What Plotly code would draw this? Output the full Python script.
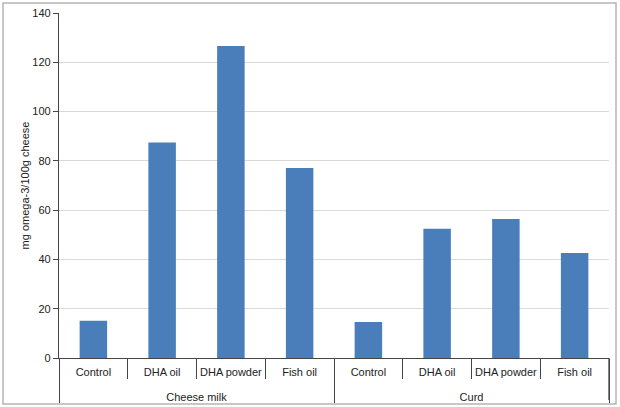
import plotly.graph_objects as go

groups = ["Cheese milk"] * 4 + ["Curd"] * 4
treatments = ["Control", "DHA oil", "DHA powder", "Fish oil"] * 2
values = [15.1, 87.5, 126.6, 77.1, 14.6, 52.4, 56.4, 42.6]
y_ticks = [0, 20, 40, 60, 80, 100, 120, 140]

fig = go.Figure()
fig.add_trace(go.Bar(
    x=[["<span style='font-size:8px'> </span><br>" + g for g in groups], treatments], y=values,
    marker=dict(color="#4a7ebb", line=dict(width=0)),
    hoverinfo="y",
))

W, H = 620, 407
L, R, T, B = 59, 11, 13, 49
pw, ph = W - L - R, H - T - B

def px(x):
    return (x - L) / pw

def py(y):
    return (H - B - y) / ph

fig.update_layout(
    width=W, height=H,
    margin=dict(l=L, r=R, t=T, b=B, autoexpand=False),
    paper_bgcolor="white", plot_bgcolor="white",
    bargap=0.6, showlegend=False,
    font=dict(family="Liberation Sans, Arial, sans-serif", size=11, color="#222"),
    xaxis=dict(
        type="multicategory", automargin=False, tickangle=0,
        showline=True, linecolor="#444", linewidth=1.3,
        ticks="outside", ticklen=20, tickcolor="#444", tickwidth=1.3,
        ticklabelstandoff=4,
        showdividers=True, dividercolor="#444", dividerwidth=1.3,
        tickfont=dict(size=11, color="#222"),
        showgrid=False,
    ),
    yaxis=dict(
        range=[0, 140], tickvals=y_ticks, automargin=False,
        showline=True, linecolor="#444", linewidth=1.3,
        ticks="outside", ticklen=5, tickcolor="#444",
        showgrid=True, gridcolor="#d9d9d9", gridwidth=1,
        zeroline=False,
        tickfont=dict(size=11, color="#222"),
        title=dict(text="mg omega-3/100g cheese", font=dict(size=11, color="#222"), standoff=0),
    ),
    shapes=[
        dict(
            type="rect", xref="paper", yref="paper",
            x0=px(3), x1=px(616), y0=py(404), y1=py(3),
            line=dict(color="#b5b5b5", width=1.5), fillcolor="rgba(0,0,0,0)", layer="below",
        ),
        dict(
            type="line", xref="paper", yref="paper",
            x0=1, x1=1, y0=0, y1=py(400),
            line=dict(color="#444", width=1.3),
        ),
    ],
)

fig.write_html(
    "out.html",
    config={"displayModeBar": False},
    post_script="document.body.style.margin='0';document.body.style.overflow='hidden';",
)
